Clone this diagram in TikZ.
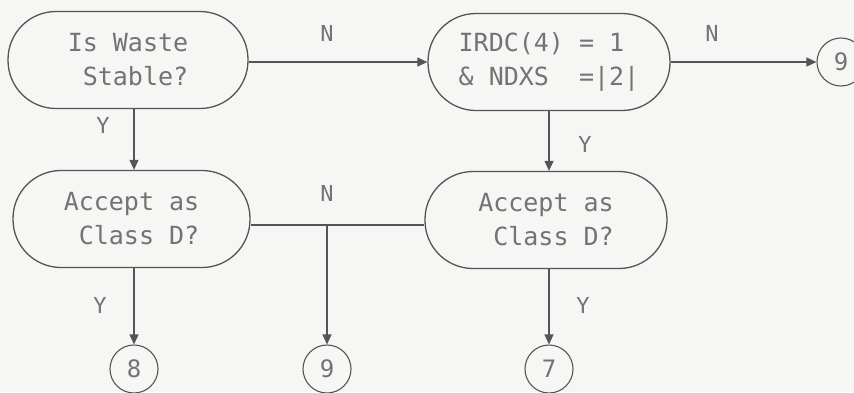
\documentclass[tikz,border=0pt]{standalone}
\usepackage{fontspec}
\newfontfamily\mono{DejaVu Sans Mono}
\usetikzlibrary{arrows.meta}
\definecolor{bg}{RGB}{246,246,244}
\definecolor{ink}{RGB}{85,85,85}
\definecolor{txt}{RGB}{115,115,115}
\tikzset{
  stadium/.style={draw=ink, line width=1.3pt, rounded corners=48pt, minimum height=97pt,
    text=txt, align=right, font=\mono\fontsize{25}{34}\selectfont, inner sep=0pt},
  conn/.style={circle, draw=ink, line width=1.1pt, minimum size=48pt, inner sep=0pt,
    text=txt, font=\mono\fontsize{24}{28}\selectfont},
  lbl/.style={text=txt, font=\mono\fontsize{22}{26}\selectfont, inner sep=0pt},
  link/.style={draw=ink, line width=1.2pt},
  arr/.style={link, -{Triangle[length=10pt,width=9pt]}}
}
\begin{document}
\begin{tikzpicture}[x=1pt,y=-1pt]
\fill[bg] (0,0) rectangle (854,392);
\useasboundingbox (0,0) rectangle (854,392);
\begin{scope}
\clip (0,0) rectangle (854,392);
\node[stadium, minimum width=240pt] (n1) at (128,60) {Is Waste\\Stable?};
\node[stadium, minimum width=242pt, align=left] (n2) at (549,62) {IRDC(4)~=~1\\\&~NDXS~~=|2|};
\node[stadium, minimum width=237pt] (n3) at (131.5,219) {Accept as\\Class D?};
\node[stadium, minimum width=242pt] (n4) at (546,220) {Accept as\\Class D?};
\node[conn] (c9a) at (841,62) {9};
\node[conn] (c8) at (134,369) {8};
\node[conn] (c9b) at (327,369) {9};
\node[conn] (c7) at (549,369) {7};
\coordinate (j) at (327,225);

\draw[arr] (n1.east |- n2.west) -- (n2.west);
\draw[arr] (n2.east) -- (c9a.west);
\draw[arr] (n1.south -| c8) -- (n3.north -| c8);
\draw[arr] (n2.south -| c7) -- (n4.north -| c7);
\draw[link] (n3.east |- j) -- (n4.west |- j);
\draw[arr] (j) -- (c9b.north);
\draw[arr] (n3.south -| c8) -- (c8.north);
\draw[arr] (n4.south -| c7) -- (c7.north);

\node[lbl] (l1) at (327,33) {N};
\node[lbl] (l2) at (712,33) {N};
\node[lbl] (l3) at (103,125) {Y};
\node[lbl] (l4) at (585,144) {Y};
\node[lbl] (l5) at (327,193) {N};
\node[lbl] (l6) at (100,305) {Y};
\node[lbl] (l7) at (583,305) {Y};
\end{scope}
\end{tikzpicture}
\end{document}
